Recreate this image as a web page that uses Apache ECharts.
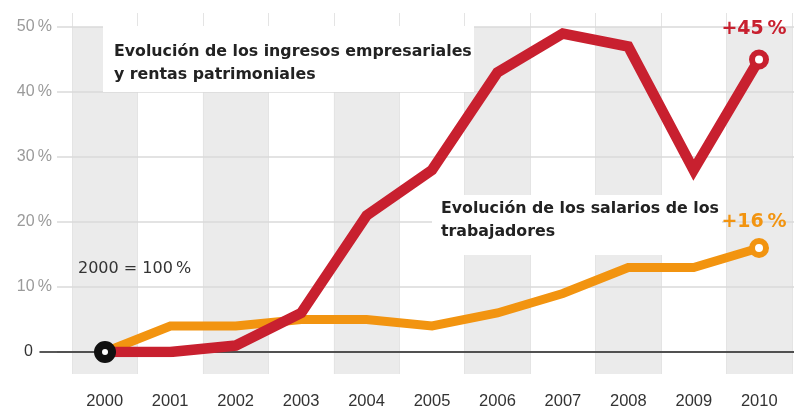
<!DOCTYPE html>
<html>
<head>
<meta charset="utf-8">
<style>
html,body{margin:0;padding:0;background:#fff;}
#chart{width:794px;height:410px;}
</style>
<script src="https://cdn.jsdelivr.net/npm/echarts@6/dist/echarts.min.js"></script>
</head>
<body>
<div id="chart"></div>
<script>
const years = ['2000','2001','2002','2003','2004','2005','2006','2007','2008','2009','2010'];
const ingresos = [0, 0, 1, 6, 21, 28, 43, 49, 47, 28, 45];
const salarios = [0, 4, 4, 5, 5, 4, 6, 9, 13, 13, 16];
const yTicks = [0, 10, 20, 30, 40, 50];
const labelIngresos = 'Evolución de los ingresos empresariales\ny rentas patrimoniales';
const labelSalarios = 'Evolución de los salarios de los\ntrabajadores';
const labelBase = '2000 = 100\u2009%';

const RED = '#c8202f';
const ORANGE = '#f29410';
const FONT = '"Liberation Sans", Arial, sans-serif';
const FONT2 = '"DejaVu Sans", sans-serif';

const chart = echarts.init(document.getElementById('chart'), null, {renderer: 'canvas'});
const pairs = arr => years.map((y, i) => [Number(y), arr[i]]);
const last = years.length - 1;

chart.setOption({
  animation: false,
  backgroundColor: '#fff',
  grid: [
    {left: 72, right: 2, top: 27, bottom: 35},
    {left: 57, right: 0, top: 27, bottom: 58},
    {left: 40, right: 0, top: 27, bottom: 58}
  ],
  xAxis: [
    {
      gridIndex: 0, type: 'category', data: years, boundaryGap: true, z: 0,
      axisLine: {show: false}, axisTick: {show: false},
      axisLabel: {margin: 19, color: '#333', fontSize: 16.5, fontFamily: FONT},
      splitArea: {show: true, areaStyle: {color: ['#ebebeb', '#ffffff']}},
      splitLine: {show: true, lineStyle: {color: '#e4e4e4', width: 1}}
    },
    {
      gridIndex: 0, type: 'category', data: years, boundaryGap: true, position: 'top', z: 0,
      axisLine: {show: false}, axisLabel: {show: false},
      axisTick: {show: true, length: 14, lineStyle: {color: '#e4e4e4', width: 1}}
    },
    {
      gridIndex: 1, type: 'value', min: 1999.266, max: 2010.535, show: false
    },
    {
      gridIndex: 2, type: 'value', min: 0, max: 1, z: 3,
      axisLine: {show: true, lineStyle: {color: '#222', width: 1.5}},
      axisTick: {show: false}, axisLabel: {show: false}, splitLine: {show: false}
    }
  ],
  yAxis: [
    {gridIndex: 0, type: 'value', show: false, min: 0, max: 1},
    {
      gridIndex: 1, type: 'value', min: yTicks[0], max: yTicks[yTicks.length - 1], interval: 10, z: 1,
      axisLine: {show: false}, axisTick: {show: false},
      axisLabel: {
        margin: 5, color: '#9a9a9a', fontSize: 16, fontFamily: FONT,
        formatter: v => v === 0 ? '{z|0}' : v + '\u2009%',
        rich: {z: {color: '#333', fontSize: 16, fontFamily: FONT, padding: [0, 19, 0, 0]}}
      },
      splitLine: {show: true, lineStyle: {color: '#dadada', width: 1.5}}
    },
    {gridIndex: 2, type: 'value', show: false, min: 0, max: 1}
  ],
  graphic: [
    {type: 'rect', z: 2, shape: {x: 103, y: 26, width: 371, height: 66}, style: {fill: '#fff'}},
    {type: 'rect', z: 2, shape: {x: 432, y: 195, width: 290, height: 60}, style: {fill: '#fff'}},
    {type: 'text', z: 10, x: 114, y: 40, style: {text: labelIngresos, font: 'bold 15.8px ' + FONT2, fill: '#222', lineHeight: 23}},
    {type: 'text', z: 10, x: 441, y: 197, style: {text: labelSalarios, font: 'bold 15.8px ' + FONT2, fill: '#222', lineHeight: 23}},
    {type: 'text', z: 10, x: 78, y: 261, style: {text: labelBase, font: '16px ' + FONT2, fill: '#333'}}
  ],
  series: [
    {
      type: 'line', xAxisIndex: 2, yAxisIndex: 1, z: 4, data: pairs(salarios),
      showSymbol: false, lineStyle: {color: ORANGE, width: 9, join: 'miter'}
    },
    {
      type: 'line', xAxisIndex: 2, yAxisIndex: 1, z: 5, data: pairs(ingresos),
      showSymbol: false, lineStyle: {color: RED, width: 10.5, join: 'miter'}
    },
    {
      type: 'scatter', xAxisIndex: 2, yAxisIndex: 1, z: 6,
      data: [[Number(years[last]), salarios[last]]],
      symbolSize: 14, itemStyle: {color: '#fff', borderColor: ORANGE, borderWidth: 6, opacity: 1},
      label: {show: true, position: 'top', distance: 6, offset: [-5, 0], color: ORANGE, fontWeight: 'bold', fontSize: 19, fontFamily: FONT2,
        formatter: p => '+' + p.value[1] + '\u2009%'}
    },
    {
      type: 'scatter', xAxisIndex: 2, yAxisIndex: 1, z: 6,
      data: [[Number(years[last]), ingresos[last]]],
      symbolSize: 14, itemStyle: {color: '#fff', borderColor: RED, borderWidth: 6, opacity: 1},
      label: {show: true, position: 'top', distance: 11, offset: [-5, 0], color: RED, fontWeight: 'bold', fontSize: 19, fontFamily: FONT2,
        formatter: p => '+' + p.value[1] + '\u2009%'}
    },
    {
      type: 'scatter', xAxisIndex: 2, yAxisIndex: 1, z: 7,
      data: [[Number(years[0]), ingresos[0]]],
      symbolSize: 14, itemStyle: {color: '#fff', borderColor: '#111', borderWidth: 8, opacity: 1}
    }
  ]
});
</script>
</body>
</html>
